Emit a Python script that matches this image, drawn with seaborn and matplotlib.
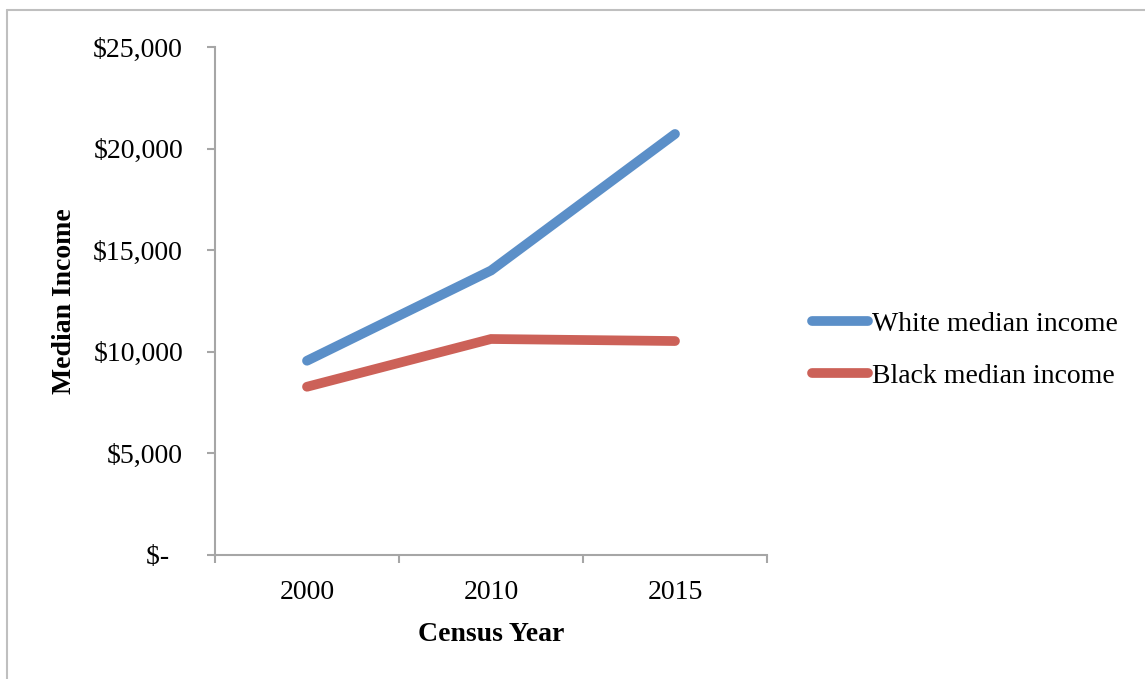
import matplotlib
matplotlib.use("Agg")
import matplotlib.pyplot as plt
import matplotlib.ticker as mticker
from matplotlib.lines import Line2D
import pandas as pd
import seaborn as sns

YEARS = ["2000", "2010", "2015"]
WHITE_INCOME = [9560, 14000, 20720]
BLACK_INCOME = [8280, 10630, 10530]
SERIES = ["White median income", "Black median income"]
PALETTE = {"White median income": "#5B8FC8", "Black median income": "#CC6158"}
Y_TICKS = [0, 5000, 10000, 15000, 20000, 25000]
Y_LABELS = ["$-  ", "$5,000", "$10,000", "$15,000", "$20,000", "$25,000"]

df = pd.DataFrame({
    "year": YEARS * 2,
    "income": WHITE_INCOME + BLACK_INCOME,
    "series": [SERIES[0]] * 3 + [SERIES[1]] * 3,
})

sns.set_theme(style="white")
plt.rcParams["font.family"] = ["Liberation Serif", "DejaVu Serif"]
plt.rcParams["text.color"] = "black"
plt.rcParams["axes.labelcolor"] = "black"
plt.rcParams["xtick.color"] = "black"
plt.rcParams["ytick.color"] = "black"

fig = plt.figure(figsize=(11.45, 6.79), dpi=100)
ax = fig.add_axes([215 / 1145, 1 - 555 / 679, 552 / 1145, 508 / 679])

sns.lineplot(data=df, x="year", y="income", hue="series", hue_order=SERIES,
             palette=PALETTE, linewidth=7, legend=False, ax=ax,
             solid_capstyle="round", solid_joinstyle="miter")

ax.set_xlim(-0.5, 2.5)
ax.set_ylim(0, 25000)
ax.set_yticks(Y_TICKS)
ax.set_yticklabels(Y_LABELS)
ax.set_xticks(range(len(YEARS)))
ax.set_xticklabels(YEARS)
ax.xaxis.set_minor_locator(mticker.FixedLocator([-0.5, 0.5, 1.5, 2.5]))

grey = "#A6A6A6"
for side in ["top", "right"]:
    ax.spines[side].set_visible(False)
for side in ["left", "bottom"]:
    ax.spines[side].set_color(grey)
    ax.spines[side].set_linewidth(1.5)

ax.tick_params(axis="y", which="major", left=True, length=6, width=1.5, color=grey,
               labelsize=20, pad=17, labelcolor="black")
ax.tick_params(axis="x", which="major", bottom=False, labelsize=20, pad=12, labelcolor="black")
ax.tick_params(axis="x", which="minor", bottom=True, length=6, width=1.5, color=grey)

ax.set_xlabel("Census Year", fontsize=20, fontweight="bold", labelpad=12, color="black")
ax.set_ylabel("Median Income", fontsize=20, fontweight="bold", labelpad=12, color="black")

handles = [Line2D([], [], color=PALETTE[s], linewidth=7, solid_capstyle="round") for s in SERIES]
leg = ax.legend(handles, SERIES, loc="center left", bbox_to_anchor=(812 / 1145, 1 - 350 / 679),
                bbox_transform=fig.transFigure, frameon=False, fontsize=20,
                handlelength=2.0, handletextpad=0.15, labelspacing=0.95, borderpad=0, borderaxespad=0)
for t in leg.get_texts():
    t.set_color("black")

border = "#BFBFBF"
fig.add_artist(Line2D([7 / 1145, 1.0], [1 - 10 / 679, 1 - 10 / 679], color=border, linewidth=1.5,
                      transform=fig.transFigure))
fig.add_artist(Line2D([7 / 1145, 7 / 1145], [0.0, 1 - 10 / 679], color=border, linewidth=1.5,
                      transform=fig.transFigure))

fig.savefig("out.png", dpi=100)
